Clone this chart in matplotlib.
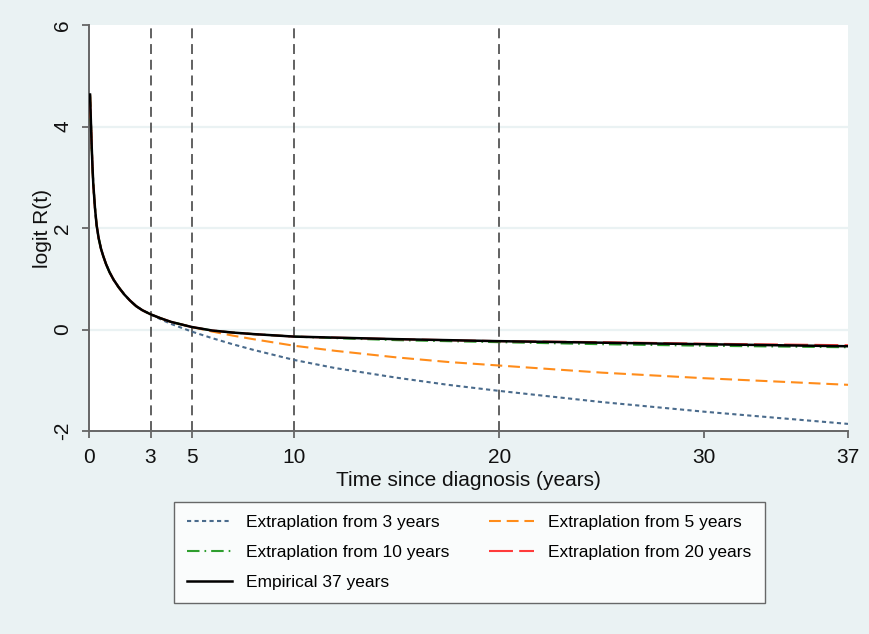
import matplotlib
matplotlib.use("Agg")
import matplotlib.pyplot as plt

plt.rcParams['font.family'] = ['Liberation Sans', 'DejaVu Sans']
plt.rcParams['axes.unicode_minus'] = False

# ---- data ----
t_early = [0.05, 0.07, 0.1, 0.13, 0.17, 0.21, 0.29, 0.37, 0.47, 0.585, 0.7, 0.83,
           1.0, 1.2, 1.45, 1.72, 2.0, 2.3, 2.6, 3.0]
y_early = [4.63, 4.38, 4.0, 3.62, 3.2, 2.86, 2.4, 2.06, 1.8, 1.59, 1.44, 1.29,
           1.13, 0.98, 0.83, 0.69, 0.57, 0.46, 0.38, 0.30]

t_emp = [3.5, 4, 5, 6, 7, 8, 10, 12, 15, 17.5, 20, 25, 30, 37]
y_emp = [0.22, 0.15, 0.05, -0.02, -0.06, -0.09, -0.14, -0.16, -0.19, -0.21, -0.23, -0.26, -0.29, -0.33]

t_ex3 = [3.5, 4, 5, 6, 7, 8, 10, 12, 15, 17.5, 20, 25, 30, 37]
y_ex3 = [0.20, 0.11, -0.04, -0.17, -0.29, -0.40, -0.60, -0.76, -0.95, -1.09, -1.21, -1.43, -1.62, -1.86]

t_ex5 = [6, 7, 8, 10, 12, 15, 17.5, 20, 25, 30, 37]
y_ex5 = [-0.04, -0.12, -0.19, -0.32, -0.42, -0.55, -0.64, -0.71, -0.85, -0.96, -1.09]

t_ex10 = [12, 15, 17.5, 20, 25, 30, 37]
y_ex10 = [-0.17, -0.21, -0.23, -0.25, -0.29, -0.32, -0.35]

t_ex20 = [25, 30, 37]
y_ex20 = [-0.25, -0.28, -0.31]

cutpoints = [3, 5, 10, 20]
xticks = [0, 3, 5, 10, 20, 30, 37]
yticks = [-2, 0, 2, 4, 6]
labels = ["Extraplation from 3 years", "Extraplation from 5 years",
          "Extraplation from 10 years", "Extraplation from 20 years",
          "Empirical 37 years"]


def series(t_tail, y_tail, cut):
    ts = list(t_early) + [t for t in t_emp if t <= cut]
    ys = list(y_early) + [y for t, y in zip(t_emp, y_emp) if t <= cut]
    return ts + t_tail, ys + y_tail


BG = "#EAF2F3"
fig = plt.figure(figsize=(8.7, 6.34), dpi=100, facecolor=BG)
ax = fig.add_axes([89/870, 1-431/634, (848-89)/870, (431-25)/634])
ax.set_facecolor("white")

for yv in [0, 2, 4]:
    ax.axhline(yv, color=BG, lw=1.6, zorder=1)
for c in cutpoints:
    ax.axvline(c, color="#555555", lw=1.3, dashes=(5.5, 3.2), zorder=2)

c_blue, c_orange, c_green, c_red = "#4A6B8C", "#FF8C1A", "#2E9E2E", "#FF3B3B"

tx, yx = series(t_ex3, y_ex3, 3)
l3, = ax.plot(tx, yx, color=c_blue, lw=1.5, dashes=(2.0, 1.6), zorder=3)
tx, yx = series(t_ex5, y_ex5, 5)
l5, = ax.plot(tx, yx, color=c_orange, lw=1.5, dashes=(5.7, 2.8), zorder=3)
tx, yx = series(t_ex10, y_ex10, 10)
l10, = ax.plot(tx, yx, color=c_green, lw=1.5, dashes=(6, 2.4, 0.8, 2.4), zorder=3)
tx, yx = series(t_ex20, y_ex20, 20)
l20, = ax.plot(tx, yx, color=c_red, lw=1.5, dashes=(11.5, 3), zorder=3)
le, = ax.plot(t_early + t_emp, y_early + y_emp, color="black", lw=1.8, zorder=4)

ax.set_xlim(0, 37)
ax.set_ylim(-2, 6)
ax.set_xticks(xticks)
ax.set_yticks(yticks)
for s in ["top", "right"]:
    ax.spines[s].set_visible(False)
for s in ["left", "bottom"]:
    ax.spines[s].set_color("#666666")
    ax.spines[s].set_linewidth(1.4)
ax.tick_params(axis="both", colors="#666666", length=5, width=1.3,
               labelsize=15, labelcolor="#111111", pad=7)
for lab in ax.get_yticklabels():
    lab.set_rotation(90)
    lab.set_va("center")
ax.set_xlabel("Time since diagnosis (years)", fontsize=15, color="#111111", labelpad=3)
ax.set_ylabel("logit R(t)", fontsize=15, color="#111111", labelpad=1)

handles = [l3, l10, le, l5, l20]
hl = [labels[0], labels[2], labels[4], labels[1], labels[3]]
leg = fig.legend(handles, hl, loc="upper left", bbox_to_anchor=(174/870, 1-502/634),
                 ncol=2, fontsize=12.5, frameon=True, fancybox=False,
                 edgecolor="#444444", facecolor="white", handlelength=2.6,
                 handletextpad=0.8, columnspacing=2.3, labelspacing=0.85,
                 borderpad=0.75, borderaxespad=0)
leg.get_frame().set_linewidth(1.0)

fig.savefig("out.png", dpi=100, facecolor=BG)
